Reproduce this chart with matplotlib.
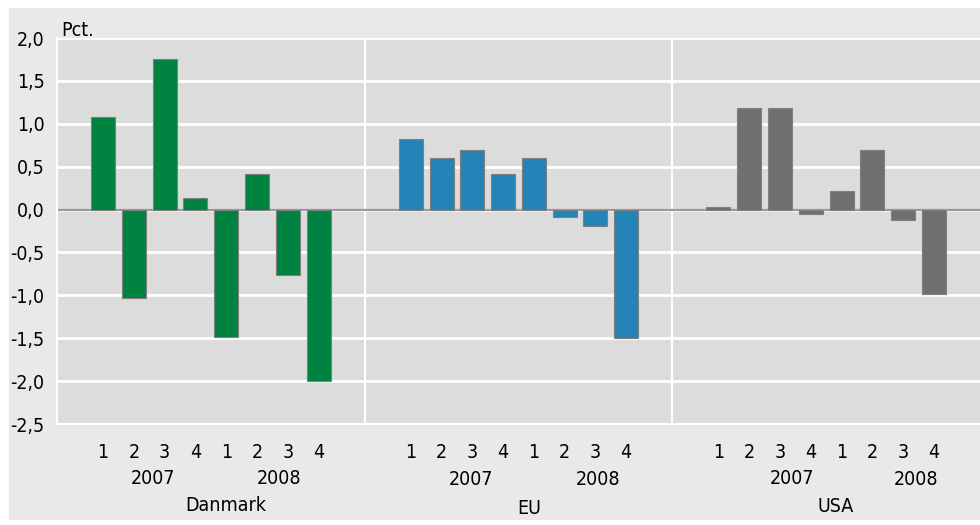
import matplotlib
matplotlib.use("Agg")
import matplotlib.pyplot as plt
from matplotlib.patches import Rectangle

# data: quarterly change, pct.
groups = ["Danmark", "EU", "USA"]
quarters = ["1", "2", "3", "4", "1", "2", "3", "4"]
years = ["2007", "2008"]
danmark = [1.08, -1.03, 1.75, 0.13, -1.48, 0.41, -0.76, -2.00]
eu = [0.82, 0.60, 0.70, 0.41, 0.60, -0.09, -0.19, -1.50]
usa = [0.03, 1.18, 1.18, -0.05, 0.22, 0.70, -0.12, -0.98]
yticks = [2.0, 1.5, 1.0, 0.5, 0.0, -0.5, -1.0, -1.5, -2.0, -2.5]

series = [danmark, eu, usa]
colors = ["#008341", "#2484b8", "#707070"]

plt.rcParams["font.family"] = ["DejaVu Sans"]
plt.rcParams["font.stretch"] = "condensed"
FS = 14

fig = plt.figure(figsize=(9.8, 5.25), dpi=100)
fig.patch.set_facecolor("white")
# light grey panel behind the chart
fig.patches.append(Rectangle((9 / 980, 5 / 525), 1, 512 / 525, transform=fig.transFigure,
                             facecolor="#e9e9e9", edgecolor="none", zorder=-10))

ax = fig.add_axes([57 / 980, 101 / 525, 923 / 980, 386 / 525])
ax.set_facecolor("#dcdcdc")

xs_all, labels_all = [], []
for g, (vals, col) in enumerate(zip(series, colors)):
    xs = [g * 10 + 1 + i for i in range(len(vals))]
    ax.bar(xs, vals, width=0.78, color=col, edgecolor="#7f7f7f", linewidth=0.8, zorder=3)
    xs_all += xs
    labels_all += quarters

ax.set_xlim(-0.5, 29.5)
ax.set_ylim(-2.5, 2.0)
ax.set_yticks(yticks)
ax.set_yticklabels([f"{v:.1f}".replace(".", ",") for v in yticks], fontsize=FS)
ax.set_xticks(xs_all)
ax.set_xticklabels(labels_all, fontsize=FS)
ax.tick_params(length=0, pad=14, axis="x")
ax.tick_params(length=0, pad=9, axis="y")

for v in yticks:
    ax.axhline(v, color="white", lw=2, zorder=1)
ax.axhline(0, color="#9a9a9a", lw=1.6, zorder=2)
for xv in [9.5, 19.5]:
    ax.axvline(xv, color="white", lw=1.5, zorder=1)

for s in ["top", "right"]:
    ax.spines[s].set_visible(False)
for s in ["left", "bottom"]:
    ax.spines[s].set_color("white")
    ax.spines[s].set_linewidth(1.5)

# label placement (offset from first bar of each group, axes-fraction y)
trans = ax.get_xaxis_transform()
year_pos = [((1.62, -0.140), (5.71, -0.140)),
            ((1.95, -0.145), (6.08, -0.145)),
            ((2.39, -0.140), (6.42, -0.145))]
name_pos = [(3.99, -0.210), (3.84, -0.218), (3.82, -0.215)]
for g in range(3):
    for (dx, yy), yr in zip(year_pos[g], years):
        ax.text(g * 10 + 1 + dx, yy, yr, transform=trans, ha="center", va="center", fontsize=FS)
    dx, yy = name_pos[g]
    ax.text(g * 10 + 1 + dx, yy, groups[g], transform=trans, ha="center", va="center", fontsize=FS)

ax.text(0.005, 0.995, "Pct.", transform=ax.transAxes, ha="left", va="bottom", fontsize=FS)

fig.savefig("out.png", dpi=100)
